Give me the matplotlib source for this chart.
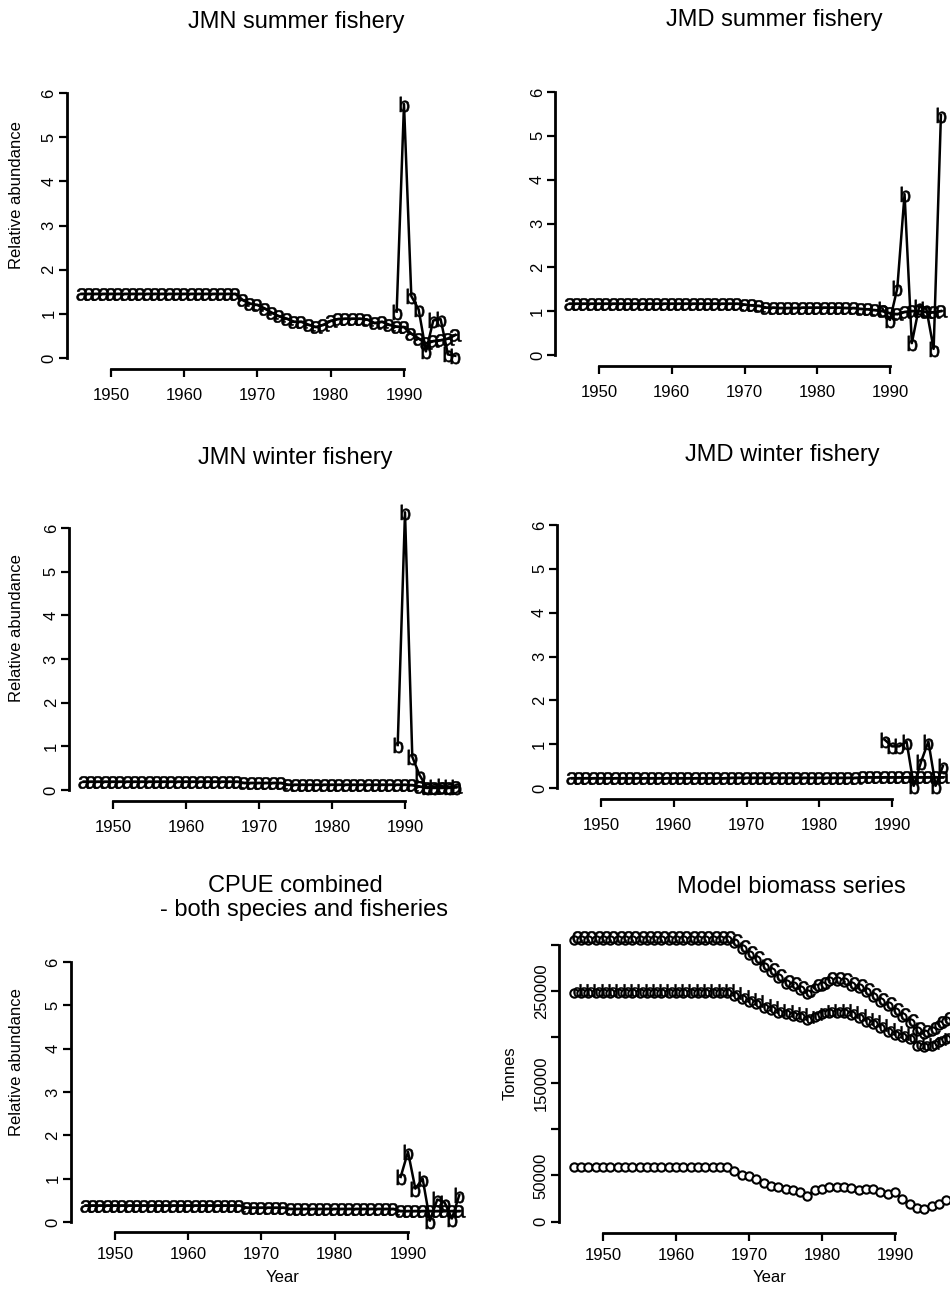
import numpy as np
import matplotlib
matplotlib.use("Agg")
import matplotlib.pyplot as plt
import matplotlib.transforms as mtransforms

plt.rcParams['font.family'] = ['Liberation Sans', 'DejaVu Sans']
plt.rcParams['mathtext.fontset'] = 'custom'
plt.rcParams['mathtext.rm'] = 'Liberation Sans'

years = np.arange(1946, 1998)
obs_years = np.arange(1989, 1998)

# relative abundance, model ("a") and observed CPUE ("b")
jmn_sum_a = [1.45, 1.45, 1.45, 1.45, 1.45, 1.45, 1.45, 1.45, 1.45, 1.45, 1.45,
             1.45, 1.45, 1.45, 1.45, 1.45, 1.45, 1.45, 1.45, 1.45, 1.45, 1.45,
             1.31, 1.23, 1.20, 1.12, 1.02, 0.94, 0.89, 0.82, 0.82, 0.75, 0.70,
             0.75, 0.84, 0.88, 0.89, 0.89, 0.89, 0.87, 0.79, 0.82, 0.75, 0.71,
             0.70, 0.55, 0.44, 0.33, 0.38, 0.40, 0.44, 0.52]
jmn_sum_b = [1.05, 5.75, 1.40, 1.10, 0.15, 0.85, 0.88, 0.08, 0.05]

jmd_sum_a = [1.17, 1.17, 1.17, 1.17, 1.17, 1.17, 1.17, 1.17, 1.17, 1.17, 1.17,
             1.17, 1.17, 1.17, 1.17, 1.17, 1.17, 1.17, 1.17, 1.17, 1.17, 1.17,
             1.17, 1.17, 1.15, 1.13, 1.12, 1.08, 1.08, 1.07, 1.07, 1.07, 1.08,
             1.08, 1.08, 1.08, 1.08, 1.08, 1.07, 1.07, 1.05, 1.04, 1.02, 1.00,
             0.95, 0.93, 0.98, 1.00, 1.00, 0.98, 0.97, 1.00]
jmd_sum_b = [1.05, 0.80, 1.52, 3.67, 0.27, 1.10, 1.05, 0.14, 5.47]

jmn_win_a = [0.19, 0.19, 0.19, 0.19, 0.19, 0.19, 0.19, 0.19, 0.19, 0.19, 0.19,
             0.19, 0.19, 0.19, 0.19, 0.19, 0.19, 0.19, 0.19, 0.19, 0.19, 0.19,
             0.16, 0.16, 0.16, 0.16, 0.16, 0.16, 0.12, 0.12, 0.12, 0.12, 0.12,
             0.12, 0.12, 0.12, 0.12, 0.12, 0.12, 0.12, 0.12, 0.12, 0.12, 0.12,
             0.12, 0.11, 0.08, 0.05, 0.05, 0.05, 0.05, 0.06]
jmn_win_b = [1.03, 6.36, 0.76, 0.34, 0.06, 0.08, 0.09, 0.07, 0.08]

jmd_win_a = [0.22, 0.22, 0.22, 0.22, 0.22, 0.22, 0.22, 0.22, 0.22, 0.22, 0.22,
             0.22, 0.22, 0.22, 0.22, 0.22, 0.22, 0.22, 0.22, 0.22, 0.22, 0.22,
             0.23, 0.23, 0.23, 0.23, 0.23, 0.23, 0.23, 0.23, 0.23, 0.23, 0.23,
             0.23, 0.23, 0.23, 0.23, 0.23, 0.23, 0.23, 0.24, 0.24, 0.24, 0.24,
             0.24, 0.24, 0.24, 0.24, 0.24, 0.24, 0.24, 0.24]
jmd_win_b = [1.10, 0.95, 0.95, 1.06, 0.05, 0.60, 1.06, 0.05, 0.50]

comb_a = [0.38, 0.38, 0.38, 0.38, 0.38, 0.38, 0.38, 0.38, 0.38, 0.38, 0.38,
          0.38, 0.38, 0.38, 0.38, 0.38, 0.38, 0.38, 0.38, 0.38, 0.38, 0.38,
          0.33, 0.33, 0.33, 0.33, 0.33, 0.33, 0.30, 0.30, 0.30, 0.30, 0.30,
          0.30, 0.30, 0.30, 0.30, 0.30, 0.30, 0.30, 0.30, 0.30, 0.30, 0.25,
          0.25, 0.25, 0.25, 0.25, 0.25, 0.25, 0.25, 0.25]
comb_b = [1.04, 1.62, 0.77, 1.00, 0.03, 0.52, 0.45, 0.08, 0.62]

# model biomass (tonnes)
bio_c = [306000, 306000, 306000, 306000, 306000, 306000, 306000,
         306000, 306000, 306000, 306000, 306000, 306000, 306000, 306000,
         306000, 306000, 306000, 306000, 306000, 306000, 306000,
         302000, 296000, 289000, 284000, 276000, 271000, 264000, 258000,
         256000, 251000, 247000, 253000, 256000, 261000, 261000, 260000,
         256000, 253000, 249000, 244000, 238000, 234000, 227000, 222000,
         215000, 207000, 204000, 207000, 213000, 218000]
bio_d = [248000, 248000, 248000, 248000, 248000, 248000, 248000, 248000,
         248000, 248000, 248000, 248000, 248000, 248000, 248000, 248000,
         248000, 248000, 248000, 248000, 248000, 248000,
         245000, 242000, 238000, 236000, 232000, 229000, 226000, 225000,
         223000, 222000, 219000, 222000, 225000, 226000, 226000, 226000,
         224000, 221000, 217000, 214000, 210000, 206000, 202000, 200000,
         198000, 191000, 189000, 191000, 195000, 198000]
bio_e = [59000, 59000, 59000, 59000, 59000, 59000, 59000, 59000, 59000,
         59000, 59000, 59000, 59000, 59000, 59000, 59000, 59000, 59000,
         59000, 59000, 59000, 59000,
         55000, 51000, 49000, 46000, 42000, 39000, 37000, 35000, 34000,
         32000, 28000, 34000, 35000, 37000, 37000, 37000, 36000, 34000,
         35000, 35000, 32000, 30000, 32000, 24000, 19000, 15000, 14000,
         17000, 19000, 23000]

W, H = 950, 1291
fig = plt.figure(figsize=(W / 100, H / 100), dpi=100)


def make_ax(l, r, t, b, ylim, yticks, yticklabels, xpad=8):
    ax = fig.add_axes([l / W, 1 - b / H, (r - l) / W, (b - t) / H])
    ax.set_xlim(1944, 1998)
    ax.set_ylim(*ylim)
    for s in ['top', 'right']:
        ax.spines[s].set_visible(False)
    ax.spines['left'].set_bounds(yticks[0], yticks[-1])
    ax.spines['bottom'].set_bounds(1950, 1990)
    ax.spines['left'].set_linewidth(2)
    ax.spines['bottom'].set_linewidth(2)
    ax.set_xticks([1950, 1960, 1970, 1980, 1990])
    ax.set_yticks(yticks)
    ax.set_yticklabels(yticklabels, rotation=90, va='center')
    ax.tick_params(length=6, width=1.6, labelsize=12)
    ax.tick_params(axis='x', pad=xpad)
    ax.tick_params(axis='y', pad=1.5)
    ax.patch.set_alpha(0)
    return ax


def abundance(ax, a, b):
    ax.plot(years, a, '-', color='black', lw=2, marker=r'$\mathrm{a}$',
            ms=9, mec='black', mew=0.4, clip_on=False)
    ax.plot(obs_years, b, '-', color='black', lw=1.8, marker=r'$\mathrm{b}$',
            ms=11, mec='black', mew=0.4, clip_on=False)


rel_ticks = [0, 1, 2, 3, 4, 5, 6]
rel_labels = ['0', '1', '2', '3', '4', '5', '6']
rel_lim = (-0.24, 6.24)

ax1 = make_ax(67, 462.6, 82.4, 368.6, rel_lim, rel_ticks, rel_labels)
abundance(ax1, jmn_sum_a, jmn_sum_b)
ax2 = make_ax(555.4, 948.2, 81.5, 365.5, rel_lim, rel_ticks, rel_labels)
abundance(ax2, jmd_sum_a, jmd_sum_b)
ax3 = make_ax(69.2, 463.4, 517.5, 800.5, rel_lim, rel_ticks, rel_labels)
abundance(ax3, jmn_win_a, jmn_win_b)
ax4 = make_ax(557.4, 950.2, 514.5, 798.5, rel_lim, rel_ticks, rel_labels)
abundance(ax4, jmd_win_a, jmd_win_b)
ax5 = make_ax(71, 466.6, 951.6, 1232.4, rel_lim, rel_ticks, rel_labels, xpad=4.5)
abundance(ax5, comb_a, comb_b)

bio_ticks = [0, 50000, 100000, 150000, 200000, 250000, 300000]
bio_labels = ['0', '50000', '', '150000', '', '250000', '']
ax6 = make_ax(559.2, 953.4, 924.4, 1233, (-12400, 322400), bio_ticks, bio_labels, xpad=4.5)
shift = mtransforms.offset_copy(ax6.transData, fig=fig, x=3, y=3, units='dots')
for series, letter in [(bio_c, 'c'), (bio_d, 'd'), (bio_e, None)]:
    ax6.plot(years, series, '-', color='black', lw=2, marker='o', ms=6,
             mfc='white', mec='black', mew=1.5, clip_on=False)
    if letter:
        ax6.plot(years, series, ls='none', marker=r'$\mathrm{%s}$' % letter,
                 ms=9, mec='black', mfc='black', mew=0.4, transform=shift,
                 clip_on=False)

# titles and axis labels
tfs = 17
fig.text(296 / W, 1 - 22 / H, 'JMN summer fishery', ha='center', va='center', fontsize=tfs)
fig.text(774 / W, 1 - 20 / H, 'JMD summer fishery', ha='center', va='center', fontsize=tfs)
fig.text(295 / W, 1 - 458 / H, 'JMN winter fishery', ha='center', va='center', fontsize=tfs)
fig.text(782 / W, 1 - 455 / H, 'JMD winter fishery', ha='center', va='center', fontsize=tfs)
fig.text(295 / W, 1 - 886 / H, 'CPUE combined', ha='center', va='center', fontsize=tfs)
fig.text(304 / W, 1 - 910 / H, '- both species and fisheries', ha='center', va='center', fontsize=tfs)
fig.text(791 / W, 1 - 887 / H, 'Model biomass series', ha='center', va='center', fontsize=tfs)

lfs = 12
fig.text(17 / W, 1 - 195 / H, 'Relative abundance', rotation=90, ha='center', va='center', fontsize=lfs)
fig.text(17 / W, 1 - 628 / H, 'Relative abundance', rotation=90, ha='center', va='center', fontsize=lfs)
fig.text(17 / W, 1 - 1062 / H, 'Relative abundance', rotation=90, ha='center', va='center', fontsize=lfs)
fig.text(510 / W, 1 - 1073 / H, 'Tonnes', rotation=90, ha='center', va='center', fontsize=lfs)
fig.text(283 / W, 1 - 1277 / H, 'Year', ha='center', va='center', fontsize=lfs)
fig.text(770 / W, 1 - 1277 / H, 'Year', ha='center', va='center', fontsize=lfs)

fig.savefig('out.png', dpi=100)
